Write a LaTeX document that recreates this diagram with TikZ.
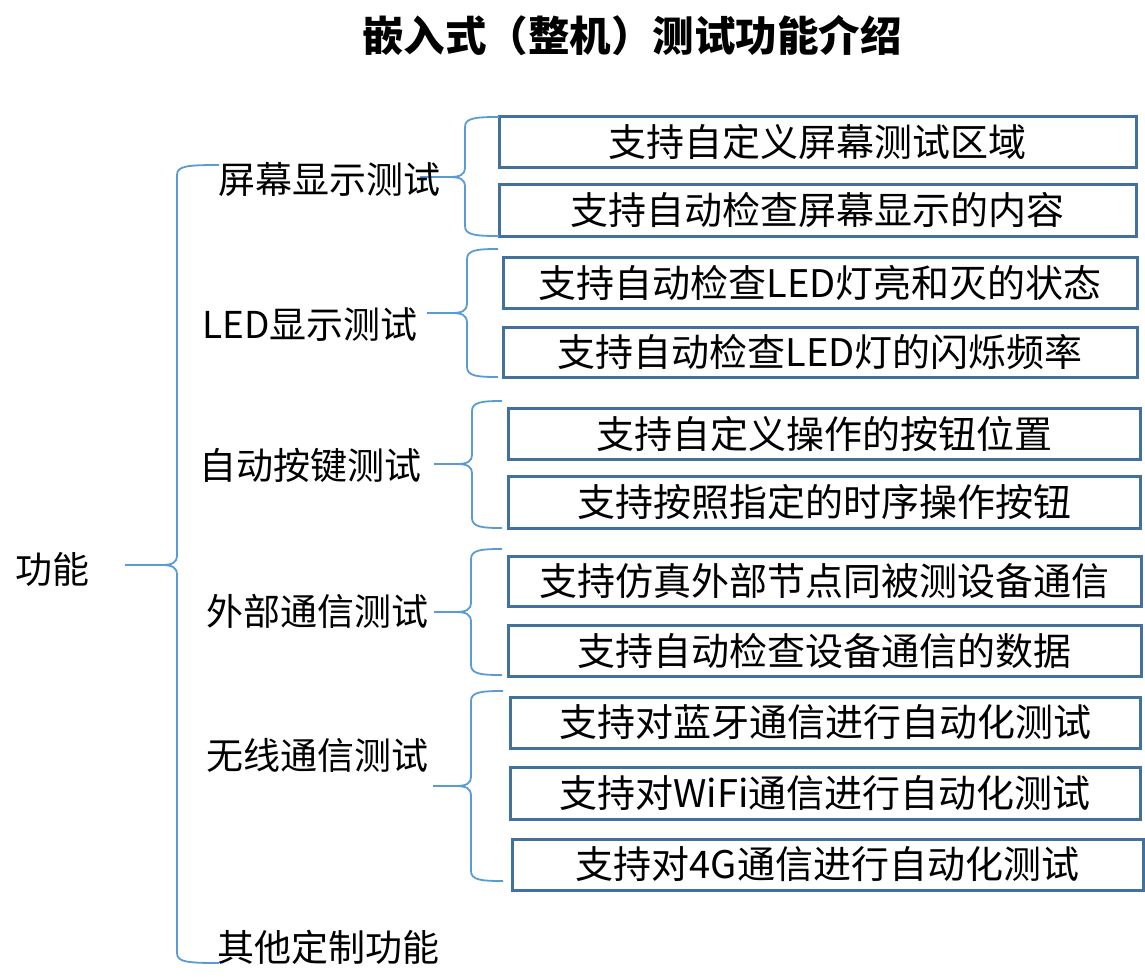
\documentclass[tikz,border=0pt]{standalone}
\usepackage{fontspec}
\setmainfont{Noto Sans CJK SC}
\definecolor{boxblue}{RGB}{65,113,156}
\definecolor{braceblue}{RGB}{91,155,213}
\begin{document}
\begin{tikzpicture}[x=1pt,y=-1pt,
  itembox/.style={draw=boxblue,line width=3pt,inner sep=0pt,font=\fontsize{38}{38}\selectfont,text=black},
  cat/.style={anchor=west,inner sep=0pt,font=\fontsize{37}{37}\selectfont,text=black},
  bracepath/.style={draw=braceblue,line width=1.8pt}]
\useasboundingbox (0,0) rectangle (1145,978);
% boxes (x1,y1) to (x2,y2)
\newcommand{\itemnode}[6]{%
  \node[itembox,minimum width=#4pt-#2pt,minimum height=#5pt-#3pt] (#1) at ({(#2+#4)/2},{(#3+#5)/2}) {#6};}
\itemnode{b1}{499}{116}{1136}{167}{支持自定义屏幕测试区域}
\itemnode{b2}{499}{184}{1136}{236}{支持自动检查屏幕显示的内容}
\itemnode{b3}{503}{257}{1137}{308}{支持自动检查LED灯亮和灭的状态}
\itemnode{b4}{503}{327}{1137}{377}{支持自动检查LED灯的闪烁频率}
\itemnode{b5}{508}{408}{1140}{459}{支持自定义操作的按钮位置}
\itemnode{b6}{508}{476}{1140}{528}{支持按照指定的时序操作按钮}
\itemnode{b7}{508}{556}{1141}{606}{支持仿真外部节点同被测设备通信}
\itemnode{b8}{508}{625}{1141}{676}{支持自动检查设备通信的数据}
\itemnode{b9}{510}{697}{1140}{748}{支持对蓝牙通信进行自动化测试}
\itemnode{b10}{510}{767}{1140}{819}{支持对WiFi通信进行自动化测试}
\itemnode{b11}{512}{839}{1143}{890}{支持对4G通信进行自动化测试}
% brace macro: name, xright, ytop, ybottom, xvert, ymid, xtip
\newcommand{\bracedraw}[7]{%
  \coordinate (#1t) at (#2,#3);
  \coordinate (#1b) at (#2,#4);
  \coordinate (#1m) at (#7,#6);
  \draw[bracepath] (#1t) .. controls ({#5+10},#3) and (#5,{#3+1}) .. (#5,{#3+10})
    -- (#5,{#6-10}) .. controls (#5,{#6-2}) and ({#5-5},#6) .. ({#5-16},#6) -- (#1m);
  \draw[bracepath] (#1b) .. controls ({#5+10},#4) and (#5,{#4-1}) .. (#5,{#4-10})
    -- (#5,{#6+10}) .. controls (#5,{#6+2}) and ({#5-5},#6) .. ({#5-16},#6);}
\bracedraw{br1}{499}{117}{236}{465}{177}{420}
\bracedraw{br2}{498}{249}{377}{467}{313}{427}
\bracedraw{br3}{502}{401}{528}{472}{464}{434}
\bracedraw{br4}{502}{549}{675}{471}{612}{434}
\bracedraw{br5}{503}{691}{881}{471}{786}{433}
\bracedraw{brm}{219}{165}{963}{177}{565}{125}
% category labels
\node[cat] (c1) at (218,179) {屏幕显示测试};
\node[cat] (c2) at (202,325) {LED显示测试};
\node[cat] (c3) at (199,465) {自动按键测试};
\node[cat] (c4) at (206,611) {外部通信测试};
\node[cat] (c5) at (206,755) {无线通信测试};
\node[cat] (c6) at (217,947) {其他定制功能};
\node[cat] (root) at (15,569) {功能};
\node[inner sep=0pt,font=\fontsize{41.5}{41.5}\selectfont\bfseries] (title) at (632,36) {嵌入式（整机）测试功能介绍};
\end{tikzpicture}
\end{document}
